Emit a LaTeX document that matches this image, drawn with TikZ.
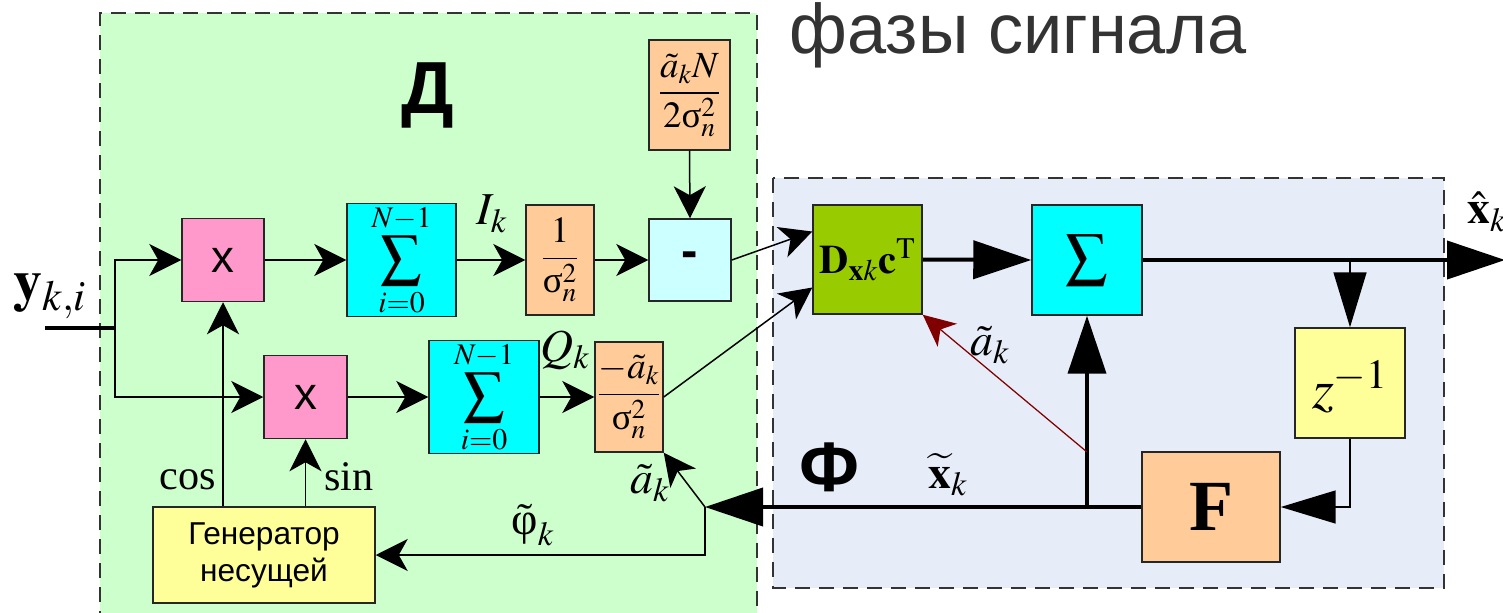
\documentclass[tikz,border=0pt]{standalone}
\usepackage{amsmath}
\usepackage{mathptmx}
\usepackage{fontspec}
\setmainfont{Liberation Serif}
\setsansfont{Liberation Sans}
\usetikzlibrary{arrows.meta,calc}
\definecolor{gbg}{HTML}{CCFFCC}
\definecolor{bbg}{HTML}{E6ECF8}
\definecolor{pinkc}{HTML}{FF99CC}
\definecolor{cyanc}{HTML}{00FFFF}
\definecolor{orangec}{HTML}{FFCC99}
\definecolor{lcyanc}{HTML}{CCFFFF}
\definecolor{yellowc}{HTML}{FFFF99}
\definecolor{greenc}{HTML}{99CC00}
\definecolor{redc}{HTML}{800000}
\definecolor{titlec}{HTML}{333333}
\newcommand{\usg}{\text{σ}}
\newcommand{\fs}[1]{\fontsize{#1}{#1}\selectfont}
\begin{document}
\begin{tikzpicture}[x=0.02cm,y=-0.02cm,line width=0.03cm,
 blk/.style={draw=black!85, line width=0.03cm, inner sep=0pt},
 sarr/.style={-{Stealth[length=0.64cm,width=0.64cm,inset=0.18cm]}},
 tarr/.style={-{Triangle[length=1.16cm,width=0.76cm]}},
 tarrs/.style={-{Triangle[length=1.1cm,width=0.66cm]}},
 thk/.style={line width=0.08cm},
 dashbox/.style={dash pattern=on 0.3cm off 0.18cm, line width=0.03cm, draw=black!80},
 lbl/.style={inner sep=0pt, font=\fs{26}}]
\useasboundingbox (0,0) rectangle (1503,612);
\begin{scope}
\clip (0,0) rectangle (1503,612);
\fill[gbg] (100,13) rectangle (757,650);
\draw[dashbox] (100,650) -- (100,13) -- (757,13) -- (757,650);
\fill[bbg] (773,178) rectangle (1444,588);
\draw[dashbox] (773,178) rectangle (1444,588);
\end{scope}

% title and region labels
\node[anchor=base west, inner sep=0pt, text=titlec, font=\sffamily\fs{40}] (title) at (789,53) {фазы сигнала};
\node[inner sep=0pt, font=\sffamily\bfseries\fs{42}] (lD) at (428,95) {Д};
\node[inner sep=0pt, font=\sffamily\bfseries\fs{40}] (lPhi) at (829,467) {Ф};

% blocks
\node[blk, fill=pinkc, minimum width=1.64cm, minimum height=1.66cm, font=\sffamily\fs{26}] (m1) at (223,260) {x};
\node[blk, fill=pinkc, minimum width=1.66cm, minimum height=1.66cm, font=\sffamily\fs{26}] (m2) at (305.5,397) {x};
\node[blk, fill=cyanc, minimum width=2.18cm, minimum height=2.2cm, font=\fs{23}] (s1) at (401.5,260) {$\displaystyle\sum_{i=0}^{N-1}$};
\node[blk, fill=cyanc, minimum width=2.2cm, minimum height=2.2cm, font=\fs{23}] (s2) at (484,397) {$\displaystyle\sum_{i=0}^{N-1}$};
\node[blk, fill=orangec, minimum width=1.36cm, minimum height=2.2cm, font=\fs{21}] (inv) at (560,260) {$\dfrac{1}{\usg_n^2}$};
\node[blk, fill=lcyanc, minimum width=1.64cm, minimum height=1.64cm, font=\sffamily\bfseries\fs{28}] (minus) at (690,260) {\raisebox{-3.4pt}{-}};
\node[blk, fill=orangec, minimum width=1.62cm, minimum height=2.2cm, font=\fs{21}] (aN) at (689.5,95) {$\dfrac{\tilde a_k N}{2\usg_n^2}$};
\node[blk, fill=orangec, minimum width=1.36cm, minimum height=2.2cm, font=\fs{21}] (qa) at (629,397) {$\dfrac{-\tilde a_k}{\usg_n^2}$};
\node[blk, fill=yellowc, minimum width=4.44cm, minimum height=1.92cm, align=center, font=\sffamily\fontsize{18}{21}\selectfont] (gen) at (264,555) {Генератор\\несущей};
\node[blk, fill=greenc, minimum width=2.18cm, minimum height=2.18cm, font=\fs{23}] (D) at (867.5,259.5) {$\mathbf{D}_{\mathbf{x}k}\mathbf{c}^{\mathrm{T}}$};
\node[blk, fill=cyanc, minimum width=2.2cm, minimum height=2.2cm, font=\fs{34}] (s3) at (1087,260) {$\textstyle\sum$};
\node[blk, fill=yellowc, minimum width=2.2cm, minimum height=2.2cm] (z) at (1350,383) {};
\node[lbl, font=\fs{32}] (zt) at (1350,387) {$z^{-1}$};
\node[blk, fill=orangec, minimum width=2.76cm, minimum height=2.2cm, font=\bfseries\fs{41}] (F) at (1211,507) {F};

% labels
\node[lbl, font=\fs{33}] (ly) at (50,296) {$\mathbf{y}_{k,i}$};
\node[lbl] (lI) at (492,214) {$I_k$};
\node[lbl] (lQ) at (565,350) {$Q_k$};
\node[lbl, font=\fs{24}] (lcos) at (188,480) {cos};
\node[lbl, font=\fs{24}] (lsin) at (349,477) {sin};
\node[lbl] (la1) at (650,483) {$\tilde a_k$};
\node[lbl] (lphi) at (533,525) {$\tilde{\text{φ}}_k$};
\node[lbl] (la2) at (990,345) {$\tilde a_k$};
\node[lbl] (lx) at (948,475) {$\widetilde{\mathbf{x}}_k$};
\node[lbl] (lxh) at (1487,212) {$\hat{\mathbf{x}}_k$};

% coordinates
\coordinate (yin) at (45,328);
\coordinate (ysp) at (115,328);
\coordinate (fb) at (705,507);
\coordinate (j1) at (F.west -| s3.south);
\coordinate (rj) at (1087,452);
\coordinate (out) at (1505,260);
\coordinate (zsp) at (z.north |- s3.east);

% connectors (green part)
\draw[thk] (yin) -- (ysp);
\draw[sarr] (ysp) |- (m1.west);
\draw[sarr] (ysp) |- (m2.west);
\draw[sarr] (m1.east) -- (s1.west);
\draw[sarr] (s1.east) -- (inv.west);
\draw[sarr] (inv.east) -- (minus.west);
\draw[sarr] (aN.south) -- (minus.north);
\draw[sarr] (m2.east) -- (s2.west);
\draw[sarr] (s2.east) -- (qa.west);
\draw[sarr] (m1.south |- gen.north) -- (m1.south);
\draw[sarr] (m2.south |- gen.north) -- (m2.south);
\draw[sarr] (minus.east) -- ($(D.west)+(0,-28)$);
\draw[sarr] (qa.east) -- ($(D.west)+(0,28)$);
\draw[sarr] (fb) |- (gen.east);
\draw[sarr] (fb) -- (qa.south east);

% connectors (filter part)
\draw[thk, tarr] (F.west) -- (fb);
\draw[thk, tarr] (j1) -- (s3.south);
\draw[redc, line width=0.025cm, -{Stealth[length=0.64cm,width=0.6cm,inset=0.18cm]}] (rj) -- (D.south east);
\draw[thk, tarr] (D.east) -- (s3.west);
\draw[thk, tarr] (s3.east) -- (out);
\draw[tarrs] (zsp) -- (z.north);
\draw[tarrs] (z.south) |- (F.east);
\end{tikzpicture}
\end{document}
